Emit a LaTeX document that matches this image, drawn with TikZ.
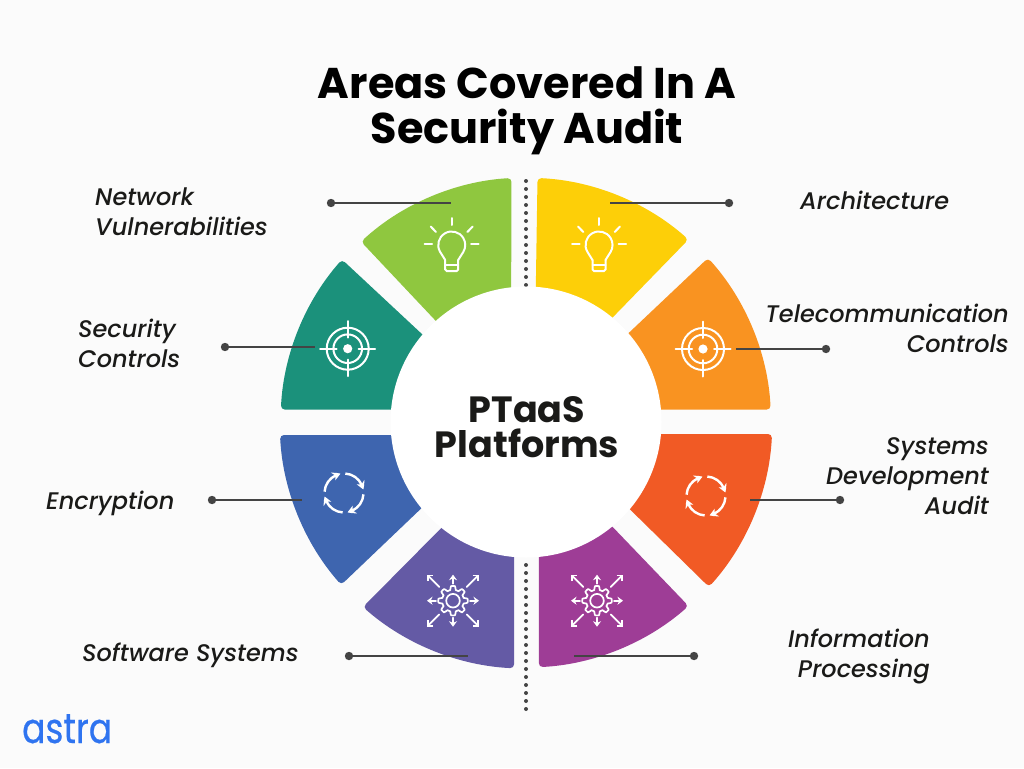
\documentclass[tikz,border=0pt]{standalone}
\usepackage{fontspec}
\setmainfont{Poppins}
\newfontfamily\lblfont{Poppins}[ItalicFont={Poppins Medium Italic}]
\newfontfamily\logofont{Poppins}[FakeStretch=0.82,FakeBold=0.5]
\usetikzlibrary{arrows.meta,bending}
\definecolor{pagebg}{HTML}{FBFBFB}
\definecolor{inkdark}{HTML}{1A1A18}
\definecolor{leader}{HTML}{444444}
\definecolor{cgreen}{HTML}{8FC73F}
\definecolor{cteal}{HTML}{1B917B}
\definecolor{cblue}{HTML}{3E65AF}
\definecolor{cpurple}{HTML}{645AA5}
\definecolor{cyellow}{HTML}{FDCF08}
\definecolor{corange}{HTML}{F99321}
\definecolor{cred}{HTML}{F15A25}
\definecolor{cmagenta}{HTML}{9E3D96}
\definecolor{cbrand}{HTML}{2F74F0}
\def\cx{526}
\def\cy{422}
\newcommand\wedgeseg[9]{%
  \pgfmathsetmacro\angA{atan2(#3-\cy,#2-\cx)}%
  \pgfmathsetmacro\angB{atan2(#5-\cy,#4-\cx)}%
  \pgfmathsetmacro\radS{veclen(#2-\cx,#3-\cy)}%
  \fill[#1,rounded corners=4pt] (#2,#3) arc[start angle=\angA,end angle=\angB,radius=\radS] -- (#6,#7) -- (#8,#9) -- cycle;%
}
\newcommand\bulbicon[2]{%
  \begin{scope}[shift={(#1,#2)},iconline]
    \draw (-6.5,15) -- (-11.5,7) arc[start angle=148.7,end angle=391.3,radius=13.5] -- (6.5,15);
    \draw[rounded corners=1.5pt] (-6.5,15) -- (-6.5,26) -- (6.5,26) -- (6.5,15);
    \draw (-6.5,20) -- (6.5,20);
    \draw (0,-27) -- (0,-20);
    \draw (-21,-18.5) -- (-15.7,-13);
    \draw (21,-18.5) -- (15.7,-13);
    \draw (-27,-1.3) -- (-19.5,-1.3);
    \draw (27,-1.3) -- (19.5,-1.3);
  \end{scope}%
}
\newcommand\targeticon[2]{%
  \begin{scope}[shift={(#1,#2)},iconline]
    \draw (0,0) circle[radius=21];
    \draw (0,0) circle[radius=14.3];
    \fill[white] (0,0) circle[radius=4.6];
    \foreach \a in {0,90,180,270}{\draw (\a:27.5) -- (\a:11);}
  \end{scope}%
}
\newcommand\cycleicon[2]{%
  \begin{scope}[shift={(#1,#2)},iconline,line width=2.4pt,line cap=butt]
    \foreach \a in {0,90,180,270}{%
      \pgfmathsetmacro\sa{-86+\a}\pgfmathsetmacro\ea{-10+\a}%
      \draw[-{Stealth[length=8pt,width=9pt,bend]}] (\sa:19.5) arc[start angle=\sa,end angle=\ea,radius=19.5];}
  \end{scope}%
}
\newcommand\gearicon[2]{%
  \begin{scope}[shift={(#1,#2)},iconline,line width=1.7pt]
    \draw (0,0) circle[radius=6.8];
    \draw[line join=round] plot[domain=0:360,samples=145] (\x:{12.8+1.9*max(-1,min(1,2.2*cos(8*\x)))}) -- cycle;
    \foreach \a in {45,135,225,315}{\draw[line width=1.8pt,-{Straight Barb[length=4pt,width=8pt]}] (\a:19.5) -- (\a:37);}
    \foreach \a in {0,90,180,270}{\draw[line width=1.8pt,-{Stealth[length=5.5pt,width=8pt]}] (\a:17) -- (\a:26);}
  \end{scope}%
}
\tikzset{
  iconline/.style={draw=white,line width=2pt,line cap=round},
  leaderline/.style={draw=leader,line width=2.2pt},
  leaderdot/.style={fill=leader},
  dotline/.style={draw=leader,line width=4pt,line cap=round,dash pattern=on 0pt off 8pt},
  titletext/.style={font=\bfseries\fontsize{43}{45}\selectfont,text=black,align=center,inner sep=0pt},
  hubtext/.style={font=\bfseries\fontsize{36.5}{35}\selectfont,text=inkdark,align=center,inner sep=0pt},
  labelL/.style={font=\lblfont\itshape\fontsize{24}{30}\selectfont,text=inkdark,align=left,anchor=west,inner sep=0pt},
  labelR/.style={font=\lblfont\itshape\fontsize{24}{30}\selectfont,text=inkdark,align=right,anchor=east,inner sep=0pt},
}
\begin{document}
\begin{tikzpicture}[x=1pt,y=1pt,yscale=-1]
\useasboundingbox (0,0) rectangle (1024,768);
\fill[pagebg] (0,0) rectangle (1024,768);
% dotted axis
\coordinate (axisA) at (526,181); \coordinate (axisB) at (526,286);
\coordinate (axisC) at (526,565); \coordinate (axisD) at (526,709);
\draw[dotline] (axisA) -- (axisB);
\draw[dotline] (axisC) -- (axisD);
% segments
\wedgeseg{cgreen}{511.5}{178}{360}{240.5}{467}{354}{511}{340}
\wedgeseg{cteal}{342}{259.5}{279.5}{409.5}{400}{409.5}{453}{363}
\wedgeseg{cblue}{280}{435}{341}{585}{451}{480}{400}{435}
\wedgeseg{cpurple}{363}{607}{514}{670}{514}{510}{470}{499}
\wedgeseg{cyellow}{537.5}{178}{688}{240}{581}{350}{535}{340}
\wedgeseg{corange}{708}{258}{772}{409.5}{650}{409.5}{598}{362}
\wedgeseg{cred}{772}{434}{708}{586}{600}{480}{650}{434}
\wedgeseg{cmagenta}{688.5}{606}{539}{670}{539}{510}{582}{495}
% hub
\fill[white] (\cx,\cy) circle[radius=135.5];
% leaders
\foreach \nm/\xa/\ya/\xb/\yb in {gr/331/203/451/203, te/225/347/315/347, bl/212/500/302/500, pu/349/656/468/656, ye/729/203/610/203, or/826/349/736/349, re/840/500/750/500, ma/694/656/574/656}{
  \coordinate (\nm d) at (\xa,\ya);
  \coordinate (\nm e) at (\xb,\yb);
  \draw[leaderline] (\nm d) -- (\nm e);
  \fill[leaderdot] (\nm d) circle[radius=4.2];
}
% icons
\bulbicon{451.7}{245}
\bulbicon{599}{245}
\targeticon{347.7}{348.7}
\targeticon{703}{349}
\cycleicon{344}{493}
\cycleicon{706}{496}
\gearicon{453}{600.7}
\gearicon{597}{600.7}
% text
\node[titletext] (title) at (527,111) {Areas Covered In A\\Security Audit};
\node[hubtext] (hub) at (527,427) {PTaaS\\Platforms};
\node[labelL] (lnet) at (95,212) {Network\\Vulnerabilities};
\node[labelL] (lsec) at (78,343.5) {Security\\Controls};
\node[labelL] (lenc) at (46,503) {Encryption};
\node[labelL] (lsof) at (82,655) {Software Systems};
\node[labelL] (larc) at (800,200) {Architecture};
\node[labelR] (ltel) at (1009,328) {Telecommunication\\Controls};
\node[labelR] (lsys) at (989,476) {Systems\\Development\\Audit};
\node[labelR] (linf) at (930,656) {Information\\Processing};
\node[font=\logofont\fontsize{42}{44}\selectfont,text=cbrand,anchor=base west,inner sep=0pt] (logo) at (22,743) {astra};
\end{tikzpicture}
\end{document}
